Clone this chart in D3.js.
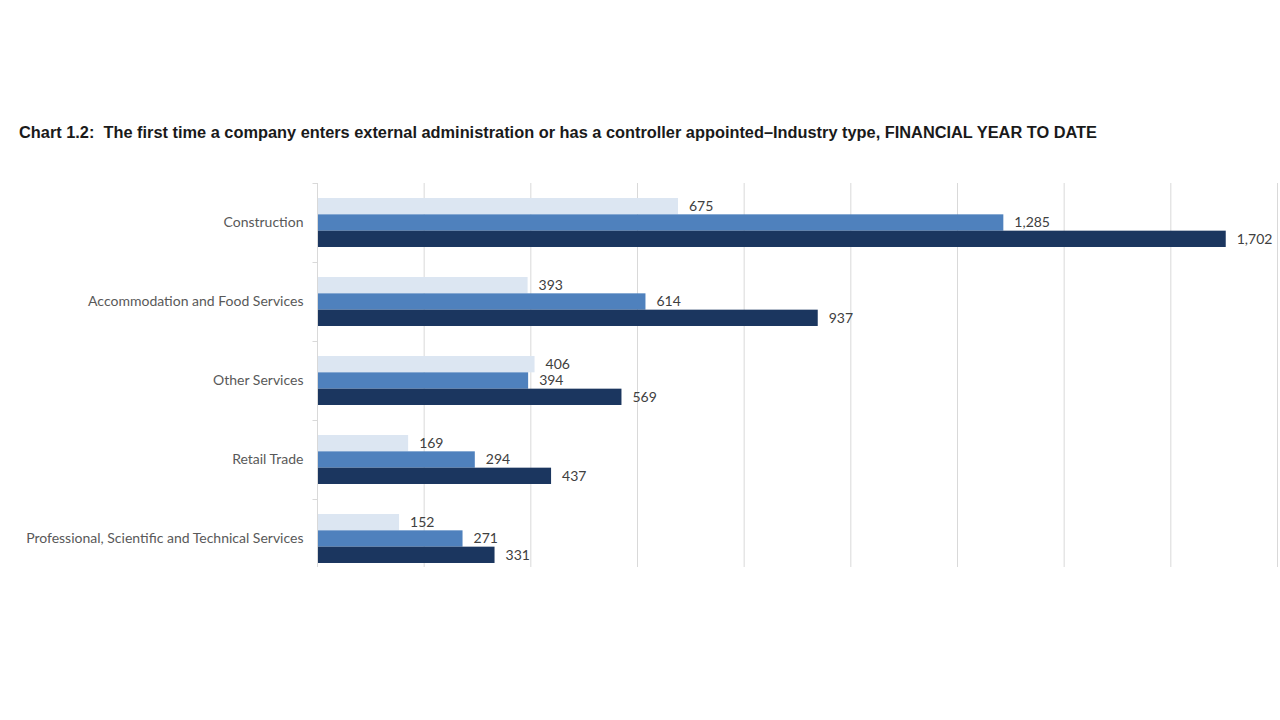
<!DOCTYPE html>
<html>
<head>
<meta charset="utf-8">
<script src="https://cdn.jsdelivr.net/npm/d3@7"></script>
<style>
  body { margin: 0; background: #fff; }
  svg { display: block; }
</style>
</head>
<body>
<svg id="chart" width="1280" height="720"></svg>
<script>
// categories, top to bottom
const categories = [
    "Construction",
    "Accommodation and Food Services",
    "Other Services",
    "Retail Trade",
    "Professional, Scientific and Technical Services"
];

// three periods, drawn light -> dark within each group
const seriesLight = [675, 393, 406, 169, 152];
const seriesMid = [1285, 614, 394, 294, 271];
const seriesDark = [1702, 937, 569, 437, 331];

const seriesKeys = ["light", "mid", "dark"];
const gridTicks = [0, 200, 400, 600, 800, 1000, 1200, 1400, 1600, 1800];

const titleText = "Chart 1.2:  The first time a company enters external administration or has a controller appointed\u2013Industry type, FINANCIAL YEAR TO DATE";

const Colors = {
    light: "#dce6f2",
    mid: "#4f81bd",
    dark: "#1b365f",
    grid: "#d9d9d9",
    label: "#595959",
    value: "#404040"
};

const rows = categories.map((c, i) => ({
    category: c,
    light: seriesLight[i],
    mid: seriesMid[i],
    dark: seriesDark[i]
}));

const svg = d3.select("#chart");
// plot area; the last band runs past the visible bottom edge in the original
const plot = { left: 317, right: 1277, top: 183, bottom: 567, bandBottom: 578 };

// Title
svg.append("text")
    .attr("x", 19)
    .attr("y", 138)
    .attr("font-family", "Liberation Sans, Arial, sans-serif")
    .attr("font-weight", "bold")
    .attr("font-size", "16px")
    .attr("fill", "#1a1a1a")
    .attr("textLength", 1078)
    .attr("lengthAdjust", "spacingAndGlyphs")
    .style("white-space", "pre")
    .text(titleText);

const x = d3.scaleLinear()
    .domain([0, 1800])
    .range([plot.left, plot.right]);

const y = d3.scaleBand()
    .domain(categories)
    .range([plot.top, plot.bandBottom])
    .paddingInner(0.38)
    .paddingOuter(0.19);

const ySub = d3.scaleBand()
    .domain(seriesKeys)
    .range([0, y.bandwidth()]);

// Vertical grid lines (skip the zero line, drawn as the axis)
svg.append("g")
    .selectAll("line")
    .data(gridTicks.filter(d => d > 0))
    .join("line")
    .attr("x1", d => x(d) + 0.5)
    .attr("x2", d => x(d) + 0.5)
    .attr("y1", plot.top)
    .attr("y2", plot.bottom)
    .attr("stroke", Colors.grid)
    .attr("stroke-width", 1);

// Category axis on the left
const step = y.step();
const yAxis = d3.axisLeft(y)
    .tickSize(0)
    .tickPadding(14);

const yAxisGroup = svg.append("g")
    .attr("transform", `translate(${plot.left + 0.5},0)`)
    .call(yAxis);

yAxisGroup.select(".domain").remove();
yAxisGroup.append("line")
    .attr("y1", plot.top)
    .attr("y2", plot.bottom)
    .attr("stroke", Colors.grid);

yAxisGroup.selectAll("text")
    .attr("fill", Colors.label)
    .style("font-family", "Lato, 'Open Sans', sans-serif")
    .style("font-size", "14px");

// small separator ticks between categories
yAxisGroup.selectAll(".sep")
    .data(d3.range(categories.length).map(i => plot.top + i * step))
    .join("line")
    .attr("class", "sep")
    .attr("x1", -5)
    .attr("x2", 0)
    .attr("y1", d => d + 0.5)
    .attr("y2", d => d + 0.5)
    .attr("stroke", Colors.grid);

// Bars
const groups = svg.append("g")
    .selectAll("g")
    .data(rows)
    .join("g")
    .attr("transform", d => `translate(0,${y(d.category)})`);

const bars = groups.selectAll("g")
    .data(d => seriesKeys.map(k => ({ key: k, value: d[k] })))
    .join("g");

bars.append("rect")
    .attr("x", x(0) + 1)
    .attr("y", d => ySub(d.key))
    .attr("width", d => x(d.value) - x(0))
    .attr("height", ySub.bandwidth())
    .attr("fill", d => Colors[d.key]);

bars.append("text")
    .attr("x", d => x(d.value) + 12)
    .attr("y", d => ySub(d.key) + ySub.bandwidth() / 2)
    .attr("dy", "0.35em")
    .attr("fill", Colors.value)
    .style("font-family", "Lato, 'Open Sans', sans-serif")
    .style("font-size", "14px")
    .text(d => d3.format(",")(d.value));
</script>
</body>
</html>
